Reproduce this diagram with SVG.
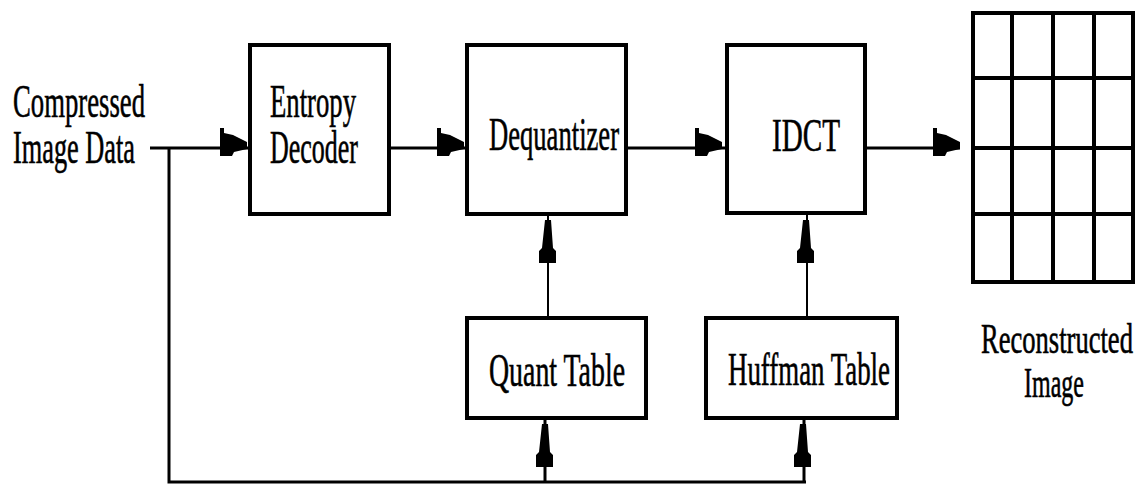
<svg xmlns="http://www.w3.org/2000/svg" xmlns:xlink="http://www.w3.org/1999/xlink" width="1148" height="484" viewBox="0 0 1148 484">
  <style>
    .box { fill: #fff; stroke: #000; stroke-width: 4; }
    .wire { fill: none; stroke: #000; stroke-width: 3; }
    .thin { fill: none; stroke: #000; stroke-width: 2; }
    .grid { fill: none; stroke: #000; stroke-width: 4; }
    .lbl { font-family: "Liberation Serif", "Times New Roman", serif; font-size: 46px; fill: #000; stroke: #000; stroke-width: 0.6; }
    .cap { font-size: 42px; }
    .head { fill: #000; }
  </style>
  <defs>
    <!-- arrowhead pointing right; origin at its base on the wire -->
    <path id="ah" d="M0,-20 L4,-20 L4,-15 L13,-13 L27,-6 L27,1 L14,4 L12,8 L0,8 Z"/>
    <!-- arrowhead pointing up; origin at its base on the wire -->
    <path id="av" d="M-9,0 L8,0 L8,-12 L5,-15 L3,-43 L-3,-43 L-6,-15 L-9,-12 Z"/>
  </defs>
  <rect width="1148" height="484" fill="#fff"/>

  <g id="connectors">
    <!-- input feed and the bus along the bottom -->
    <polyline class="wire" points="150,148 250,148"/>
    <polyline class="wire" points="169,148 169,482 806,482"/>
    <!-- main pipeline -->
    <line class="wire" x1="389" y1="148" x2="467" y2="148"/>
    <line class="wire" x1="626" y1="148" x2="727" y2="148"/>
    <line class="wire" x1="865" y1="148" x2="960" y2="148"/>
    <!-- tables feeding the stages -->
    <line class="thin" x1="548" y1="318" x2="548" y2="214"/>
    <line class="thin" x1="807" y1="318" x2="807" y2="213"/>
    <line class="wire" x1="545" y1="482" x2="545" y2="418"/>
    <line class="wire" x1="804" y1="482" x2="804" y2="418"/>

    <use xlink:href="#ah" class="head" transform="translate(220,148)"/>
    <use xlink:href="#ah" class="head" transform="translate(437,148)"/>
    <use xlink:href="#ah" class="head" transform="translate(695,148)"/>
    <use xlink:href="#ah" class="head" transform="translate(933,148)"/>
    <use xlink:href="#av" class="head" transform="translate(548,263)"/>
    <use xlink:href="#av" class="head" transform="translate(806,263)"/>
    <use xlink:href="#av" class="head" transform="translate(545,467)"/>
    <use xlink:href="#av" class="head" transform="translate(803,467)"/>
  </g>

  <g id="input">
    <text class="lbl" x="13" y="117" textLength="132" lengthAdjust="spacingAndGlyphs">Compressed</text>
    <text class="lbl" x="13" y="163" textLength="122" lengthAdjust="spacingAndGlyphs">Image Data</text>
  </g>

  <g id="entropy-decoder">
    <rect class="box" x="250" y="45" width="139" height="169"/>
    <text class="lbl" x="270" y="117" textLength="86" lengthAdjust="spacingAndGlyphs">Entropy</text>
    <text class="lbl" x="270" y="163" textLength="88" lengthAdjust="spacingAndGlyphs">Decoder</text>
  </g>

  <g id="dequantizer">
    <rect class="box" x="467" y="45" width="159" height="169"/>
    <text class="lbl" x="489" y="150" textLength="130" lengthAdjust="spacingAndGlyphs">Dequantizer</text>
  </g>

  <g id="idct">
    <rect class="box" x="727" y="45" width="138" height="168"/>
    <text class="lbl" x="772" y="151" textLength="68" lengthAdjust="spacingAndGlyphs">IDCT</text>
  </g>

  <g id="quant-table">
    <rect class="box" x="467" y="318" width="179" height="100"/>
    <text class="lbl" x="489" y="386" textLength="136" lengthAdjust="spacingAndGlyphs">Quant Table</text>
  </g>

  <g id="huffman-table">
    <rect class="box" x="706" y="318" width="191" height="100"/>
    <text class="lbl" x="728" y="385" textLength="162" lengthAdjust="spacingAndGlyphs">Huffman Table</text>
  </g>

  <g id="reconstructed-image">
    <rect class="grid" x="973" y="13" width="160" height="269"/>
    <line class="grid" x1="1012" y1="13" x2="1012" y2="282"/>
    <line class="grid" x1="1053" y1="13" x2="1053" y2="282"/>
    <line class="grid" x1="1094" y1="13" x2="1094" y2="282"/>
    <line class="grid" x1="973" y1="78" x2="1133" y2="78"/>
    <line class="grid" x1="973" y1="148" x2="1133" y2="148"/>
    <line class="grid" x1="973" y1="214" x2="1133" y2="214"/>
    <text class="lbl cap" transform="translate(981 353) scale(0.633 1)" x="0" y="0" textLength="240" lengthAdjust="spacingAndGlyphs">Reconstructed</text>
    <text class="lbl cap" x="1024" y="397" textLength="60" lengthAdjust="spacingAndGlyphs">Image</text>
  </g>
</svg>
